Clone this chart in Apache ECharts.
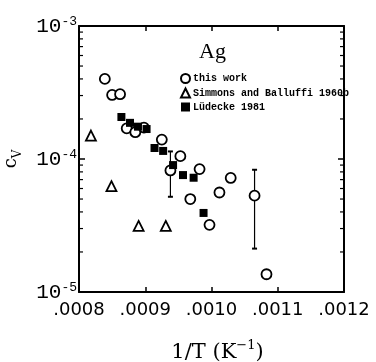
<!DOCTYPE html>
<html>
<head>
<meta charset="utf-8">
<script src="https://cdn.jsdelivr.net/npm/echarts@6/dist/echarts.min.js"></script>
<style>
  html, body { margin: 0; padding: 0; background: #fff; }
  #chart { width: 376px; height: 362px; }
</style>
</head>
<body>
<div id="chart"></div>
<script>
// Vacancy concentration of silver versus inverse temperature
const thisWorkX = [0.000839, 0.000850, 0.000862, 0.000872, 0.000885, 0.000898, 0.000925, 0.000953,
                   0.000938, 0.000982, 0.000968, 0.001012, 0.001029, 0.000997, 0.001065, 0.001083];
const thisWorkY = [4.0e-4, 3.03e-4, 3.07e-4, 1.70e-4, 1.59e-4, 1.72e-4, 1.40e-4, 1.05e-4,
                   8.2e-5, 8.4e-5, 5.0e-5, 5.6e-5, 7.2e-5, 3.2e-5, 5.3e-5, 1.36e-5];

// error bars on two of the points: [1/T, lower, upper]
const errX = [0.000938, 0.001065];
const errLow = [5.2e-5, 2.12e-5];
const errHigh = [1.14e-4, 8.3e-5];

const simmonsX = [0.000818, 0.000849, 0.000890, 0.000931];
const simmonsY = [1.50e-4, 6.25e-5, 3.14e-5, 3.14e-5];

const ludeckeX = [0.000864, 0.000877, 0.000889, 0.000902, 0.000914, 0.000927, 0.000942, 0.000957, 0.000973, 0.000988];
const ludeckeY = [2.07e-4, 1.87e-4, 1.75e-4, 1.68e-4, 1.21e-4, 1.15e-4, 9.0e-5, 7.57e-5, 7.23e-5, 3.93e-5];

const seriesNames = ['this work', 'Simmons and Balluffi 1960b', 'Lüdecke 1981'];

const xTickLabels = ['.0008', '.0009', '.0010', '.0011', '.0012'];
const yTickExponents = ['-5', '-4', '-3'];
const yMinorTicks = [2e-5, 3e-5, 4e-5, 5e-5, 6e-5, 7e-5, 8e-5, 9e-5,
                     2e-4, 3e-4, 4e-4, 5e-4, 6e-4, 7e-4, 8e-4, 9e-4];

const zip = (xs, ys) => xs.map((x, i) => [x, ys[i]]);

const chart = echarts.init(document.getElementById('chart'), null, { renderer: 'canvas' });

const black = '#000';
const axisCommon = {
  min: 0.0008, max: 0.0012, interval: 0.0001,
  axisLine: { show: true, onZero: false, lineStyle: { color: black, width: 2 } },
  axisTick: { show: true, inside: true, length: 5, lineStyle: { color: black, width: 1.5 } },
  splitLine: { show: false }
};

chart.setOption({
  animation: false,
  backgroundColor: '#fff',
  grid: { left: 79, right: 32, top: 26, bottom: 70, containLabel: false, outerBoundsMode: 'none' },
  title: {
    text: 'Ag',
    left: 194, top: 36,
    textStyle: { fontFamily: 'Liberation Serif', fontSize: 22, fontWeight: 'normal', color: black }
  },
  legend: {
    data: seriesNames,
    orient: 'vertical',
    left: 175, top: 68,
    itemWidth: 9, itemHeight: 9, itemGap: 3.5,
    textStyle: { fontFamily: 'Liberation Mono', fontWeight: 'bold', fontSize: 10, color: black, padding: [0, 0, 0, -2] }
  },
  xAxis: [
    Object.assign({}, axisCommon, {
      type: 'value', position: 'bottom',
      axisLabel: {
        margin: 9,
        fontFamily: 'DejaVu Sans', fontSize: 18, color: black,
        formatter: (v) => xTickLabels[Math.round((v - 0.0008) / 0.0001)]
      },
      name: '{b|1/T (K}{sup|−1}{b|)}',
      nameLocation: 'middle', nameGap: 47,
      nameTextStyle: {
        padding: [0, 0, 0, 12],
        rich: {
          b: { fontFamily: 'DejaVu Serif', fontSize: 21, color: black, lineHeight: 24, verticalAlign: 'bottom' },
          sup: { fontFamily: 'DejaVu Serif', fontSize: 13, color: black, lineHeight: 24, verticalAlign: 'top' }
        }
      }
    }),
    Object.assign({}, axisCommon, {
      type: 'value', position: 'top',
      axisLabel: { show: false }
    })
  ],
  yAxis: [
    {
      type: 'log', logBase: 10, min: 1e-5, max: 1e-3, position: 'left',
      axisLine: { show: true, onZero: false, lineStyle: { color: black, width: 2 } },
      axisTick: { show: true, inside: true, length: 6, lineStyle: { color: black, width: 1.5 } },
      splitLine: { show: false },
      axisLabel: {
        margin: 2,
        formatter: (v, i) => '{b|10}{sup|' + yTickExponents[i] + '}',
        rich: {
          b: { fontFamily: 'Liberation Mono', fontSize: 21, color: black, lineHeight: 22, verticalAlign: 'bottom' },
          sup: { fontFamily: 'Liberation Mono', fontSize: 13, color: black, lineHeight: 22, verticalAlign: 'top' }
        }
      },
      name: '{c|c}{sub|V}',
      nameLocation: 'middle', nameGap: 55, nameRotate: 90,
      nameTextStyle: {
        rich: {
          c: { fontFamily: 'DejaVu Serif', fontSize: 18, color: black, lineHeight: 22, verticalAlign: 'top' },
          sub: { fontFamily: 'DejaVu Serif', fontSize: 12, color: black, lineHeight: 22, verticalAlign: 'bottom' }
        }
      }
    },
    {
      type: 'log', logBase: 10, min: 1e-5, max: 1e-3, position: 'right',
      axisLine: { show: true, onZero: false, lineStyle: { color: black, width: 2 } },
      axisTick: { show: true, inside: true, length: 6, lineStyle: { color: black, width: 1.5 } },
      splitLine: { show: false },
      axisLabel: { show: false }
    }
  ],
  series: [
    {
      // minor decade ticks on both the left and right frame edges
      type: 'custom', silent: true, z: 1,
      data: yMinorTicks.map(v => [0.0008, v]),
      renderItem: (params, api) => {
        const p = api.coord([api.value(0), api.value(1)]);
        const cs = params.coordSys;
        const y = p[1];
        return {
          type: 'group',
          children: [
            { type: 'line', shape: { x1: cs.x, y1: y, x2: cs.x + 4, y2: y }, style: { stroke: black, lineWidth: 1.2 } },
            { type: 'line', shape: { x1: cs.x + cs.width - 4, y1: y, x2: cs.x + cs.width, y2: y }, style: { stroke: black, lineWidth: 1.2 } }
          ]
        };
      }
    },
    {
      // vertical error bars with short caps
      type: 'custom', silent: true, z: 2,
      data: errX.map((x, i) => [x, errLow[i], errHigh[i]]),
      renderItem: (params, api) => {
        const lo = api.coord([api.value(0), api.value(1)]);
        const hi = api.coord([api.value(0), api.value(2)]);
        const s = { stroke: black, lineWidth: 1.2 };
        return {
          type: 'group',
          children: [
            { type: 'line', shape: { x1: lo[0], y1: lo[1], x2: hi[0], y2: hi[1] }, style: s },
            { type: 'line', shape: { x1: lo[0] - 2.5, y1: lo[1], x2: lo[0] + 2.5, y2: lo[1] }, style: { stroke: black, lineWidth: 2 } },
            { type: 'line', shape: { x1: hi[0] - 2.5, y1: hi[1], x2: hi[0] + 2.5, y2: hi[1] }, style: { stroke: black, lineWidth: 2 } }
          ]
        };
      }
    },
    {
      name: seriesNames[0], type: 'scatter', z: 3,
      symbol: 'circle', symbolSize: 10,
      itemStyle: { color: '#fff', borderColor: black, borderWidth: 1.8, opacity: 1 },
      data: zip(thisWorkX, thisWorkY)
    },
    {
      name: seriesNames[1], type: 'scatter', z: 3,
      symbol: 'triangle', symbolSize: 10,
      itemStyle: { color: '#fff', borderColor: black, borderWidth: 1.8, opacity: 1 },
      data: zip(simmonsX, simmonsY)
    },
    {
      name: seriesNames[2], type: 'scatter', z: 4,
      symbol: 'rect', symbolSize: 8,
      itemStyle: { color: black, borderColor: black, borderWidth: 0, opacity: 1 },
      data: zip(ludeckeX, ludeckeY)
    }
  ]
});
</script>
</body>
</html>
